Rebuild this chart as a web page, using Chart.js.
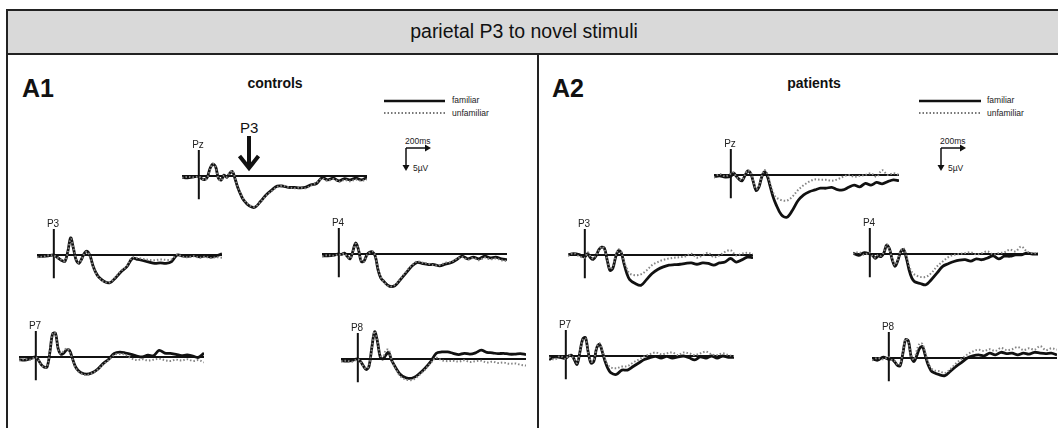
<!DOCTYPE html>
<html>
<head>
<meta charset="utf-8">
<title>parietal P3 to novel stimuli</title>
<script src="https://cdn.jsdelivr.net/npm/chart.js@4/dist/chart.umd.min.js"></script>
<style>
  html, body { margin: 0; padding: 0; background: #fff; }
  body { width: 1058px; height: 428px; position: relative; overflow: hidden; font-family: Arial, "Liberation Sans", sans-serif; color: #111; }
  .abs { position: absolute; line-height: 1; white-space: nowrap; }
  #titlebar { left: 6px; top: 9px; width: 1100px; height: 46px; box-sizing: border-box; border: 2px solid #222; background: #d9d9d9; }
  #frame { left: 6px; top: 53px; width: 1100px; height: 420px; box-sizing: border-box; border: 2px solid #222; }
  #divider { left: 537px; top: 53px; width: 2px; height: 420px; background: #222; }
  .panelId { font-size: 25px; font-weight: bold; top: 76px; }
  .group { font-size: 14px; font-weight: bold; top: 76px; width: 200px; text-align: center; }
  .small { font-size: 8.5px; color: #222; }
  .elec { font-size: 10px; width: 30px; text-align: center; color: #222; }
  canvas.wave { position: absolute; }
  svg { position: absolute; left: 0; top: 0; }
</style>
</head>
<body>
<div id="titlebar" class="abs"></div>
<div id="frame" class="abs"></div>
<div id="divider" class="abs"></div>
<div class="abs" style="left:0; width:1048px; text-align:center; top:22px; font-size:19.5px;">parietal P3 to novel stimuli</div>

<div class="abs panelId" style="left:22px;">A1</div>
<div class="abs panelId" style="left:552px;">A2</div>
<div class="abs group" style="left:175px;">controls</div>
<div class="abs group" style="left:714px;">patients</div>

<div class="abs small" style="left:452px; top:96px;">familiar</div>
<div class="abs small" style="left:452px; top:109px;">unfamiliar</div>
<div class="abs small" style="left:987px; top:96px;">familiar</div>
<div class="abs small" style="left:987px; top:109px;">unfamiliar</div>

<div class="abs small" style="left:405px; top:137px;">200ms</div>
<div class="abs small" style="left:413px; top:164px;">5µV</div>
<div class="abs small" style="left:940px; top:137px;">200ms</div>
<div class="abs small" style="left:948px; top:164px;">5µV</div>

<div class="abs" style="left:240px; top:120px; font-size:15px;">P3</div>

<svg width="1058" height="428" id="marks">
  <!-- legend lines -->
  <line x1="384" y1="101" x2="445" y2="101" stroke="#111" stroke-width="2.5"/>
  <line x1="384" y1="113" x2="445" y2="113" stroke="#777" stroke-width="2" stroke-dasharray="1.5 2"/>
  <line x1="919" y1="101" x2="981" y2="101" stroke="#111" stroke-width="2.5"/>
  <line x1="919" y1="113" x2="981" y2="113" stroke="#777" stroke-width="2" stroke-dasharray="1.5 2"/>
  <!-- scale bars -->
  <path d="M406 148 H427 M406 148 V167" stroke="#111" stroke-width="1.5" fill="none"/>
  <polygon points="425,144.5 431,148 425,151.5" fill="#111"/>
  <polygon points="402.5,165 406,171 409.5,165" fill="#111"/>
  <path d="M941 148 H962 M941 148 V167" stroke="#111" stroke-width="1.5" fill="none"/>
  <polygon points="960,144.5 966,148 960,151.5" fill="#111"/>
  <polygon points="937.5,165 941,171 944.5,165" fill="#111"/>
  <!-- P3 arrow -->
  <line x1="249" y1="136" x2="249" y2="167" stroke="#111" stroke-width="4"/>
  <polyline points="239.5,156 249,168 258.5,156" stroke="#111" stroke-width="4" fill="none"/>
</svg>

<script>
// sample times (ms) shared by all traces
const timesMs = [-150, -100, -50, 0, 25, 50, 75, 100, 125, 150, 175, 200, 225, 250, 275, 300, 325, 350, 375, 400,
  450, 500, 550, 600, 650, 700, 750, 800, 850, 900, 950, 1000, 1050, 1100, 1150, 1200, 1250, 1300, 1350, 1400, 1450, 1500];

const electrodes = ['Pz', 'P3', 'P4', 'P7', 'P8'];

// controls (µV, positive plotted downward)
const ctrlPzFam = [0.3, 0.4, 0.2, 0.1, 0.6, 0.8, 0.3, -1.7, -2.7, -2.1, 0.5, 0.9, -0.2, 0.3, -0.6, -1.0, 0.8, 2.8, 4.3, 5.5,
  6.8, 7.1, 5.8, 4.3, 3.2, 2.3, 2.3, 2.6, 2.6, 2.7, 2.6, 2.0, 1.7, 0.4, 0.9, 0.5, 1.1, 0.6, 0.9, 0.5, 0.9, 0.3];
const ctrlPzUnf = [0.4, 0.2, 0.3, 0.2, 0.5, 0.9, 0.4, -1.5, -2.8, -2.0, 0.6, 1.0, -0.1, 0.2, -0.7, -1.2, 0.6, 2.6, 4.1, 5.3,
  6.6, 7.0, 5.9, 4.5, 3.4, 2.5, 2.2, 2.5, 2.8, 2.6, 2.8, 2.2, 1.5, 0.6, 1.1, 0.7, 1.3, 0.9, 1.2, 0.8, 1.1, 0.7];
const ctrlP3Fam = [0.3, 0.3, 0.2, 0.0, 0.4, 0.9, 1.3, 1.4, -0.8, -3.9, -1.5, 1.2, 1.9, 0.8, -0.5, -0.8, 0.3, 2.5, 4.0, 5.0,
  6.0, 6.3, 5.2, 3.8, 2.7, 0.8, 1.0, 1.3, 1.6, 1.9, 1.8, 1.9, 1.5, 0.0, 0.2, 0.3, 0.1, 0.4, 0.2, 0.5, 0.2, -0.3];
const ctrlP3Unf = [0.5, 0.4, 0.1, 0.1, 0.5, 0.8, 1.2, 1.3, -0.6, -3.7, -1.6, 1.0, 1.8, 0.9, -0.4, -0.7, 0.4, 2.6, 4.1, 5.1,
  6.1, 6.2, 5.0, 3.6, 2.5, 0.6, 0.7, 0.9, 1.1, 1.2, 1.0, 1.1, 1.0, -0.1, 0.4, 0.5, 0.3, 0.6, 0.4, 0.7, 0.5, 0.6];
const ctrlP4Fam = [0.4, 0.4, 0.3, 0.0, 0.1, -0.2, 0.5, 1.1, -0.6, -2.5, -1.0, 1.7, 1.6, 0.2, -0.4, -0.5, 0.5, 3.6, 5.5, 6.2,
  7.3, 7.2, 5.8, 4.3, 2.8, 1.9, 2.2, 2.4, 2.4, 2.7, 2.3, 2.0, 1.3, 0.5, 1.1, 0.7, 1.1, 0.5, 0.9, 0.7, 1.1, 1.3];
const ctrlP4Unf = [0.5, 0.3, 0.4, 0.1, 0.2, -0.1, 0.6, 1.0, -0.4, -2.3, -1.1, 1.5, 1.7, 0.3, -0.3, -0.6, 0.4, 3.4, 5.3, 6.3,
  7.4, 7.0, 5.6, 4.0, 2.6, 1.7, 2.0, 2.2, 2.6, 2.5, 2.0, 1.8, 1.1, 0.7, 1.3, 0.9, 1.4, 0.8, 1.2, 1.0, 1.4, 1.6];
const ctrlP7Fam = [0.6, 0.7, 0.4, 0.0, 0.8, 1.8, 2.3, 2.3, -1.0, -5.3, -5.4, -1.8, -0.6, -0.9, -1.6, -1.5, 0.2, 2.0, 3.0, 3.5,
  3.9, 3.6, 2.8, 1.5, 0.5, -0.8, -1.1, -0.9, -0.6, -0.2, 0.0, -0.4, -0.3, -1.5, -0.9, -0.8, -0.6, -0.3, -0.5, -0.2, 0.1, -0.9];
const ctrlP7Unf = [0.8, 0.5, 0.6, 0.1, 0.7, 1.9, 2.4, 2.2, -1.2, -5.5, -5.3, -1.6, -0.8, -1.4, -1.9, -1.3, 0.4, 2.2, 3.2, 3.7,
  4.1, 3.7, 2.9, 1.7, 0.7, -0.5, -0.7, -0.5, 0.3, 0.7, 0.5, 0.8, 0.6, 0.4, 0.7, 0.9, 0.6, 0.8, 0.5, 0.9, 0.7, 1.2];
const ctrlP8Fam = [0.4, 0.5, 0.3, 0.0, 0.6, 1.6, 2.4, 1.6, -2.6, -6.2, -4.0, -0.5, 0.0, -0.9, -1.5, 0.2, 1.4, 2.5, 3.4, 3.9,
  4.4, 4.2, 3.3, 2.1, 0.6, -1.3, -1.6, -1.6, -1.3, -1.0, -1.3, -1.1, -1.4, -2.0, -1.5, -1.4, -1.2, -1.3, -1.1, -1.1, -1.2, -1.0];
const ctrlP8Unf = [0.5, 0.4, 0.6, 0.1, 0.7, 1.7, 2.2, 1.5, -2.4, -6.3, -4.2, -0.8, -0.6, -2.0, -2.1, 0.0, 1.6, 2.8, 3.8, 4.3,
  4.8, 4.6, 3.6, 2.4, 0.9, -0.3, 0.3, 0.5, 0.4, 0.6, 0.3, 0.7, 0.5, 0.4, 0.8, 0.6, 0.9, 0.8, 1.1, 1.0, 1.3, 1.5];

// patients
const patPzFam = [0.4, 0.2, 0.5, 0.3, -0.4, 0.3, 1.0, 1.3, 0.2, -0.9, -0.5, 1.5, 3.5, 2.8, 0.5, -0.7, 0.2, 2.5, 4.8, 6.5,
  9.0, 9.6, 8.0, 5.8, 4.5, 3.8, 3.4, 3.0, 3.0, 2.8, 3.3, 3.4, 2.8, 2.3, 2.7, 1.9, 2.3, 1.7, 2.0, 1.5, 1.1, 1.3];
const patPzUnf = [0.6, -0.2, 0.3, -0.3, -0.6, 0.5, 0.9, 1.1, 0.0, -1.0, -0.7, 1.3, 3.2, 2.6, 0.3, -1.1, -0.3, 1.8, 3.8, 5.0,
  5.7, 5.8, 4.9, 3.4, 2.3, 1.5, 1.0, 1.1, 1.1, 1.3, 1.0, 0.4, 0.0, 0.4, 0.2, 0.0, -0.4, 0.4, -1.1, 0.0, -0.4, 0.0];
const patP3Fam = [0.0, -0.3, -0.1, 0.4, -0.3, 0.6, 1.0, 0.2, -1.2, -1.8, -1.5, 1.2, 3.5, 3.0, 0.5, -1.0, -0.5, 2.0, 4.2, 5.6,
  6.5, 6.9, 5.6, 4.2, 3.3, 2.7, 2.3, 2.2, 2.1, 1.9, 1.8, 2.1, 1.8, 1.9, 2.3, 1.8, 1.6, 0.8, 1.6, 1.1, 0.5, 0.6];
const patP3Unf = [0.2, -0.4, 0.3, 0.6, -0.6, 0.3, 0.8, 0.0, -1.0, -1.9, -1.3, 1.0, 3.2, 2.6, 0.2, -1.3, -0.7, 1.5, 3.1, 4.2,
  4.6, 4.4, 3.5, 2.3, 1.6, 1.1, 0.8, 0.6, 0.5, 0.3, -0.3, 0.6, 0.1, -0.5, 0.5, 0.1, -0.7, -1.1, 0.1, -0.3, -0.5, -0.2];
const patP4Fam = [-0.2, 0.3, -0.3, 0.0, 0.3, 1.0, 0.4, 0.6, -0.2, -2.0, -1.2, 1.3, 2.8, 1.5, -0.5, -1.0, 0.8, 3.6, 5.5, 6.3,
  6.7, 7.0, 5.8, 4.3, 2.8, 2.2, 1.7, 1.4, 1.3, 1.6, 1.1, 1.3, 0.9, 0.4, 1.1, 0.5, 0.5, 0.2, 0.2, -0.2, 0.0, 0.0];
const patP4Unf = [0.0, -0.4, 0.2, -0.3, 0.5, 0.8, 0.2, 0.4, -0.5, -2.2, -1.0, 1.1, 2.5, 1.2, -0.7, -1.3, 0.3, 2.6, 4.1, 4.7,
  5.2, 5.2, 4.3, 2.8, 1.7, 0.7, 0.2, 0.0, -0.2, -0.4, 0.1, -0.2, -0.6, 0.1, -0.2, -0.4, -1.0, -0.6, -1.7, -0.6, -0.2, -0.2];
const patP7Fam = [0.8, 0.2, 0.3, 0.5, 0.0, -0.2, 0.8, 1.9, -0.8, -3.8, -4.2, -0.8, 1.6, 1.2, -1.8, -2.7, -1.0, 1.2, 2.8, 3.8,
  4.2, 3.2, 3.2, 2.4, 1.6, 0.8, 0.4, 0.1, 0.5, 0.1, 0.5, 0.2, 0.0, 0.4, 0.9, 0.2, 0.5, 0.0, 0.5, 0.0, 0.3, 0.3];
const patP7Unf = [0.3, 0.8, 0.0, 0.7, -0.2, 0.1, 0.6, 1.6, -0.9, -3.6, -4.0, -0.7, 1.3, 0.8, -2.0, -2.9, -1.3, 0.7, 2.0, 2.6,
  2.8, 2.4, 2.3, 1.5, 0.8, 0.1, -0.4, -0.8, -0.4, -0.6, -0.8, -0.2, -0.8, -0.6, -0.2, -0.6, -1.0, -0.4, -0.2, -0.6, -0.2, 0.0];
const patP8Fam = [0.2, 0.5, -0.2, 0.3, 0.2, 0.8, 1.6, 1.8, -1.0, -4.2, -3.8, -0.2, 0.8, -0.6, -2.2, -2.6, -0.6, 1.5, 2.8, 3.3,
  3.8, 4.0, 3.0, 1.9, 1.0, 0.0, -0.5, -0.7, -0.5, -1.1, -0.7, -1.3, -1.0, -1.1, -0.7, -1.1, -0.9, -1.3, -1.1, -1.0, -1.1, -0.7];
const patP8Unf = [0.5, 0.0, 0.3, -0.2, 0.4, 0.6, 1.4, 1.5, -1.3, -4.4, -3.6, -0.4, 0.4, -1.8, -3.3, -3.2, -1.2, 0.9, 2.2, 2.8,
  3.0, 3.4, 2.5, 1.2, 0.2, -0.8, -1.5, -1.9, -1.6, -2.0, -1.6, -2.3, -1.8, -2.0, -2.5, -1.8, -2.2, -1.9, -2.7, -1.8, -2.2, -1.9];

// where each small plot sits: stimulus onset x and baseline y on the page
const plots = [
  { elec: 'Pz', x: 199, y: 176, fam: ctrlPzFam, unf: ctrlPzUnf },
  { elec: 'P3', x: 54,  y: 255, fam: ctrlP3Fam, unf: ctrlP3Unf },
  { elec: 'P4', x: 339, y: 254, fam: ctrlP4Fam, unf: ctrlP4Unf },
  { elec: 'P7', x: 36,  y: 357, fam: ctrlP7Fam, unf: ctrlP7Unf },
  { elec: 'P8', x: 358, y: 359, fam: ctrlP8Fam, unf: ctrlP8Unf },
  { elec: 'Pz', x: 731, y: 175, fam: patPzFam, unf: patPzUnf },
  { elec: 'P3', x: 585, y: 255, fam: patP3Fam, unf: patP3Unf },
  { elec: 'P4', x: 870, y: 254, fam: patP4Fam, unf: patP4Unf },
  { elec: 'P7', x: 566, y: 356, fam: patP7Fam, unf: patP7Unf },
  { elec: 'P8', x: 889, y: 358, fam: patP8Fam, unf: patP8Unf }
];

const W = 185, H = 88;
const T_MIN = -150, T_MAX = 1500, V_LIM = 10;

// baseline and stimulus-onset marker
const axisLines = {
  id: 'axisLines',
  beforeDatasetsDraw(chart) {
    const { ctx, chartArea, scales: { x, y } } = chart;
    const y0 = y.getPixelForValue(0);
    const x0 = x.getPixelForValue(0);
    ctx.save();
    ctx.strokeStyle = '#111';
    ctx.lineWidth = 2;
    ctx.beginPath();
    ctx.moveTo(chartArea.left, y0);
    ctx.lineTo(chartArea.right, y0);
    ctx.moveTo(x0, y.getPixelForValue(-5.9));
    ctx.lineTo(x0, y.getPixelForValue(5.3));
    ctx.stroke();
    ctx.restore();
  }
};

function toPoints(vals) {
  return timesMs.map((t, i) => ({ x: t, y: vals[i] }));
}

plots.forEach(p => {
  const left = Math.round(p.x - W * (0 - T_MIN) / (T_MAX - T_MIN));
  const top = p.y - H / 2;

  const cv = document.createElement('canvas');
  cv.className = 'wave';
  cv.width = W;
  cv.height = H;
  cv.style.left = left + 'px';
  cv.style.top = top + 'px';
  document.body.appendChild(cv);

  const lab = document.createElement('div');
  lab.className = 'abs elec';
  lab.textContent = p.elec;
  lab.style.left = (p.x - 16) + 'px';
  lab.style.top = (p.y - 36) + 'px';
  document.body.appendChild(lab);

  new Chart(cv, {
    type: 'line',
    data: {
      datasets: [
        {
          label: 'unfamiliar',
          data: toPoints(p.unf),
          borderColor: '#858585',
          borderWidth: 2,
          borderDash: [1.5, 2],
          order: 0
        },
        {
          label: 'familiar',
          data: toPoints(p.fam),
          borderColor: '#111',
          borderWidth: 2.8,
          order: 1
        }
      ]
    },
    options: {
      responsive: false,
      devicePixelRatio: 1,
      animation: false,
      layout: { padding: 0 },
      elements: { point: { radius: 0 }, line: { tension: 0.35 } },
      scales: {
        x: { type: 'linear', min: T_MIN, max: T_MAX, display: false },
        y: { min: -V_LIM, max: V_LIM, reverse: true, display: false }
      },
      plugins: { legend: { display: false }, tooltip: { enabled: false } }
    },
    plugins: [axisLines]
  });
});
</script>
</body>
</html>
